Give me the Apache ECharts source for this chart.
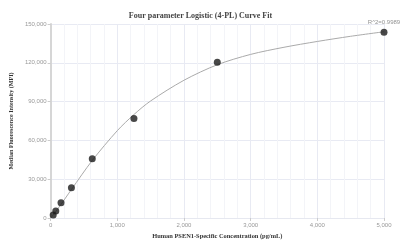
<!DOCTYPE html>
<html>
<head>
<meta charset="utf-8">
<script src="https://cdn.jsdelivr.net/npm/echarts@6/dist/echarts.min.js"></script>
<style>
  html, body { margin: 0; padding: 0; background: #fff; }
  #myChart { width: 401px; height: 246px; }
</style>
</head>
<body>
<div id="myChart"></div>
<script>
// standard points (concentration, MFI)
var concentrations = [39, 78, 156.25, 312.5, 625, 1250, 2500, 5000];
var mfiValues = [2300, 5400, 11800, 23400, 45800, 76900, 120400, 143700];

// fitted curve
var curveX = [0, 39, 156, 312, 625, 1000, 1250, 1500, 2000, 2500, 3000, 3500, 4000, 4500, 5000];
var curveY = [0, 2400, 10500, 22000, 44500, 67500, 80000, 90500, 106500, 118500, 126500, 132000, 136500, 140500, 144000];

var r2Label = 'R^2=0.9989';

var points = concentrations.map(function (c, i) { return [c, mfiValues[i]]; });
var curve = curveX.map(function (c, i) { return [c, curveY[i]]; });

var myChart = echarts.init(document.getElementById('myChart'));
myChart.setOption({
  animation: false,
  title: {
    text: 'Four parameter Logistic (4-PL) Curve Fit',
    left: 'center',
    top: 7,
    textStyle: { fontFamily: 'Liberation Serif', fontSize: 8, fontWeight: 'bold', color: '#444' }
  },
  grid: { left: 47, right: 17, top: 24, bottom: 28 },
  xAxis: {
    type: 'value',
    min: 0,
    max: 5000,
    interval: 1000,
    name: 'Human PSEN1-Specific Concentration (pg/mL)',
    nameLocation: 'middle',
    nameGap: 15,
    nameTextStyle: { fontFamily: 'Liberation Serif', fontSize: 6.4, fontWeight: 'bold', color: '#333' },
    axisLine: { show: true, lineStyle: { color: '#e6e8f0', width: 1 } },
    axisTick: { show: true, length: 3, lineStyle: { color: '#ccc' } },
    axisLabel: { fontSize: 6, color: '#999', margin: 4 },
    splitLine: { show: true, lineStyle: { color: '#e8eaf3' } },
    minorTick: { show: false, splitNumber: 5 },
    minorSplitLine: { show: true, lineStyle: { color: '#f3f4f8' } }
  },
  yAxis: {
    type: 'value',
    min: 0,
    max: 150000,
    interval: 30000,
    name: 'Median Fluorescence Intensity (MFI)',
    nameLocation: 'middle',
    nameGap: 33,
    nameTextStyle: { fontFamily: 'Liberation Serif', fontSize: 6.1, fontWeight: 'bold', color: '#333' },
    axisLine: { show: true, lineStyle: { color: '#d6d6d6', width: 2 } },
    axisTick: { show: true, length: 3, lineStyle: { color: '#ccc' } },
    axisLabel: { fontSize: 6, color: '#999', margin: 4 },
    splitLine: { show: true, lineStyle: { color: '#e8eaf3' } }
  },
  series: [
    {
      name: 'fit',
      type: 'line',
      data: curve,
      smooth: 0.3,
      showSymbol: false,
      lineStyle: { color: '#aaa', width: 1 },
      z: 1
    },
    {
      name: 'standards',
      type: 'scatter',
      data: points,
      symbolSize: 7,
      itemStyle: { color: '#1a1a1a' },
      label: {
        show: true,
        position: 'top',
        distance: 3,
        fontSize: 6,
        color: '#777',
        formatter: function (p) { return p.dataIndex === points.length - 1 ? r2Label : ''; }
      },
      z: 3
    }
  ]
});
</script>
</body>
</html>
